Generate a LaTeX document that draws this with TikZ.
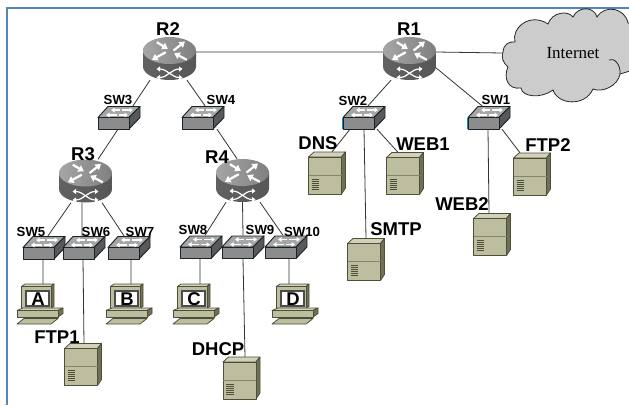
\documentclass[tikz,border=0pt]{standalone}
\usepackage{fontspec}
\setmainfont{Liberation Sans}
\newfontfamily\inetfont{Liberation Serif}
\usetikzlibrary{arrows.meta, backgrounds}
\definecolor{khaki}{HTML}{BDBDA0}
\definecolor{khakilite}{HTML}{D2D2BA}
\definecolor{khakidark}{HTML}{70705A}
\definecolor{khakiline}{HTML}{4F4F38}
\definecolor{swline}{HTML}{17242B}
\definecolor{frameblue}{HTML}{5584BE}
\tikzset{
    link/.style={line width=0.8pt, draw=black!80}, % the wires between the devices
    bigtag/.style={font=\bfseries\fontsize{18.5}{18.5}\selectfont, inner sep=0pt}, % R1, WEB1, ...
    swtag/.style={font=\bfseries\fontsize{13.2}{13.2}\selectfont, inner sep=0pt}, % SW1, SW2, ...
    whitearrow/.style={draw=white, line width=2.2pt, -{Triangle[length=5.5pt, width=7pt]}},
    swarrow/.style={draw=white, line width=1.4pt, -{Triangle[length=3.5pt, width=4.5pt]}},
    crossarrow/.style={draw=white, line width=1.2pt, {Triangle[length=3.5pt, width=5pt]}-{Triangle[length=3.5pt, width=5pt]}},
    kh/.style={fill=khaki, draw=khakiline, line width=0.8pt, line join=round},
    router/.pic={
        \node[minimum width=53pt, minimum height=43pt, inner sep=0pt] (-n) at (0,0) {};
        \shade[left color=black!62, middle color=black!48, right color=black!66]
            (-26.5,-8) -- (-26.5,8) arc[start angle=180, end angle=0, x radius=26.5, y radius=13.5] -- (26.5,-8) -- cycle;
        \shade[left color=black!35, right color=black!50] (0,-8) ellipse[x radius=26.5, y radius=13.5];
        \draw[whitearrow] (4,-8) -- (15.5,-17);
        \draw[whitearrow] (-3.7,-6.3) -- (-17.5,1.3);
        \draw[whitearrow] (-12.7,-16.3) -- (-1.7,-9.7);
        \draw[whitearrow] (17.3,1.3) -- (4.7,-5.3);
        \draw[crossarrow] (-13,10.5) .. controls (-2,10.5) and (2,19) .. (13,19);
        \draw[crossarrow] (-13,19) .. controls (-2,19) and (2,10.5) .. (13,10.5);
    },
    switch/.pic={
        \node[minimum width=42pt, minimum height=23pt, inner sep=0pt] (-n) at (0,0) {};
        \draw[fill=black!35, draw=swline, line width=0.9pt, line join=round] (-21,0) -- (-11,-11) -- (21,-11) -- (10,0) -- cycle;
        \draw[fill=black!65, draw=swline, line width=0.9pt, line join=round] (10,0) -- (21,-11) -- (21,0) -- (10,11.5) -- cycle;
        \draw[fill=black!45, draw=swline, line width=0.9pt, line join=round] (-21,0) rectangle (10,11.5);
        \draw[swarrow] (1,-7.5) -- (-8,-7.5);
        \draw[swarrow] (3,-7.5) -- (14,-7.5);
        \draw[swarrow] (-2,-2.5) -- (-13,-2.5);
        \draw[swarrow] (0,-2.5) -- (9,-2.5);
    },
    server/.pic={
        \node[minimum width=37pt, minimum height=42pt, inner sep=0pt] (-n) at (0,0) {};
        \draw[kh, fill=khakilite] (-18.5,-16) -- (-13,-21) -- (18.5,-21) -- (14.5,-16) -- cycle;
        \draw[kh, fill=khakidark] (14.5,-16) -- (18.5,-21) -- (18.5,15) -- (14.5,21) -- cycle;
        \draw[kh] (-18.5,-16) rectangle (14.5,21);
        \draw[khakiline!70, line width=0.7pt] (-18.5,2) -- (14.5,2);
        \foreach \y in {6,8,10,12,14,16}
            \draw[khakiline, line width=0.6pt] (-15.5,\y) -- (-8,\y);
    },
    pics/pc/.style={code={
        \node[minimum width=46pt, minimum height=39pt, inner sep=0pt] (-n) at (0,0) {};
        \draw[kh, fill=khakilite] (-18.5,-18) -- (-15,-20.5) -- (14,-20.5) -- (11,-18) -- cycle;
        \draw[kh, fill=khakidark] (11,-18) -- (14,-20.5) -- (14,2) -- (11,3.5) -- cycle;
        \draw[kh] (-18.5,-18) rectangle (11,3.5);
        \draw[fill=white, draw=black!70, line width=1.2pt] (-14,-13.5) rectangle (9,1.5);
        \draw[kh, fill=khakilite] (-23,6) -- (-17,3.5) -- (23,3.5) -- (18,6) -- cycle;
        \draw[kh, fill=khakidark] (18,6) -- (23,3.5) -- (23,9) -- (18,12.5) -- cycle;
        \draw[kh] (-23,6) rectangle (18,12.5);
        \draw[kh] (-23,19.5) -- (-16,14) -- (18,14) -- (11,19.5) -- cycle;
        \node[bigtag] (-t) at (-2,-5.5) {#1};
    }},
}

\begin{document}
\begin{tikzpicture}[x=1pt, y=-1pt]
    \useasboundingbox (0,0) rectangle (629,405);
    \draw[frameblue, line width=1.5pt] (629,8) -- (7,8) -- (7,405);

    % internet cloud
    \begin{scope}
        \clip (0,0) rectangle (629,405);
        \draw[fill=black!20, draw=black!85, line width=0.8pt]
            (503,52) .. controls (503,45) and (509,41) .. (515,42)
            .. controls (511,28) and (530,12) .. (548,24)
            .. controls (552,12) and (568,10) .. (573,17)
            .. controls (578,6) and (594,6) .. (597,17)
            .. controls (605,4) and (625,8) .. (628,23)
            -- (640,26) -- (640,68) -- (620,74)
            .. controls (618,86) and (602,93) .. (593,89)
            .. controls (585,107) and (558,105) .. (553,90)
            .. controls (541,99) and (522,97) .. (521,88)
            .. controls (508,90) and (503,78) .. (508,67)
            .. controls (503,63) and (501,57) .. (503,52) -- cycle;
        \draw[draw=black!85, line width=0.8pt] (609,60) .. controls (614,57) and (621,65) .. (620,74);
    \end{scope}
    \node[font=\inetfont\fontsize{17}{17}\selectfont, minimum width=140pt, inner sep=0pt] (inet) at (573,53) {Internet};

    % routers
    \pic (r1) at (409.5,58.5) {router};
    \pic (r2) at (169.5,58.5) {router};
    \pic (r3) at (85.5,181) {router};
    \pic (r4) at (242.5,180.5) {router};

    % switches
    \pic (sw1) at (489,117.5) {switch};
    \pic (sw2) at (364,117.5) {switch};
    \pic (sw3) at (119,117.5) {switch};
    \pic (sw4) at (203,117.5) {switch};
    \pic (sw5) at (44,247.5) {switch};
    \pic (sw6) at (84,247.5) {switch};
    \pic (sw7) at (129,247.5) {switch};
    \pic (sw8) at (201,247) {switch};
    \pic (sw9) at (243,247) {switch};
    \pic (sw10) at (286,247) {switch};
    \draw[cyan!70!blue, line width=1pt] (sw1-n.south west) -- +(0,-11.5);
    \draw[cyan!70!blue, line width=1pt] (sw2-n.south west) -- +(0,-11.5);

    % servers
    \pic (dns) at (327,173) {server};
    \pic (web1) at (405,173.5) {server};
    \pic (ftp2) at (532,174) {server};
    \pic (web2) at (492,234.5) {server};
    \pic (smtp) at (366,259.5) {server};
    \pic (ftp1) at (83,364.5) {server};
    \pic (dhcp) at (241.5,378) {server};

    % hosts
    \pic (pca) at (40,304.5) {pc=A};
    \pic (pcb) at (129,304.5) {pc=B};
    \pic (pcc) at (196,304.5) {pc=C};
    \pic (pcd) at (295,304.5) {pc=D};

    \begin{scope}[on background layer]
        \draw[link]
        ([yshift=6.5]r2-n.east) -- ([yshift=6.5]r1-n.west)
        ([yshift=6.5]r1-n.east) -- (inet.west)
        ([xshift=-19.5]r2-n.south) -- ([xshift=14]sw3-n.north)
        ([xshift=17.5]r2-n.south) -- ([xshift=2]sw4-n.north)
        ([xshift=-1]sw3-n.south) -- ([xshift=12.5]r3-n.north)
        ([xshift=14]sw4-n.south) -- ([xshift=-5.5]r4-n.north)
        ([xshift=-18.5]r1-n.south) -- ([xshift=4]sw2-n.north)
        ([yshift=-9.5]r1-n.east) -- ([xshift=-7]sw1-n.north)
        ([xshift=-14]sw2-n.south) -- ([xshift=5]dns-n.north)
        (sw2-n.south) -- ([xshift=0]smtp-n.north)
        ([xshift=13]sw2-n.south) -- ([xshift=-7]web1-n.north)
        ([xshift=-1]sw1-n.south) -- ([xshift=-3]web2-n.north)
        ([xshift=13]sw1-n.south) -- ([xshift=-12]ftp2-n.north)
        ([xshift=-14.5]r3-n.south) -- ([xshift=4]sw5-n.north)
        ([xshift=-3.5]r3-n.south) -- ([xshift=-2]sw6-n.north)
        ([xshift=16.5]r3-n.south) -- ([xshift=-5]sw7-n.north)
        ([xshift=-16.5]r4-n.south) -- ([xshift=4]sw8-n.north)
        (r4-n.south) -- (sw9-n.north)
        ([xshift=17.5]r4-n.south) -- ([xshift=-3]sw10-n.north)
        ([xshift=-1]sw5-n.south) -- ([xshift=3]pca-n.north)
        ([xshift=-1]sw6-n.south) -- ([xshift=1]ftp1-n.north)
        ([xshift=2]sw7-n.south) -- ([xshift=2]pcb-n.north)
        ([xshift=-1]sw8-n.south) -- ([xshift=4]pcc-n.north)
        (sw9-n.south) -- ([xshift=3.5]dhcp-n.north)
        ([xshift=3]sw10-n.south) -- ([xshift=-6]pcd-n.north);
    \end{scope}

    % tags
    \node[bigtag] (r1tag) at (409,29) {R1};
    \node[bigtag] (r2tag) at (168,29) {R2};
    \node[bigtag] (r3tag) at (83,154.5) {R3};
    \node[bigtag] (r4tag) at (217,157) {R4};
    \node[swtag] (sw1tag) at (496,100) {SW1};
    \node[swtag] (sw2tag) at (353,101) {SW2};
    \node[swtag] (sw3tag) at (118,100) {SW3};
    \node[swtag] (sw4tag) at (221,100) {SW4};
    \node[swtag] (sw5tag) at (31,232) {SW5};
    \node[swtag] (sw6tag) at (96,232) {SW6};
    \node[swtag] (sw7tag) at (140,232) {SW7};
    \node[swtag] (sw8tag) at (193,230) {SW8};
    \node[swtag] (sw9tag) at (260,230) {SW9};
    \node[swtag] (sw10tag) at (302,232) {SW10};
    \node[bigtag] (dnstag) at (318,143) {DNS};
    \node[bigtag] (web1tag) at (423,144) {WEB1};
    \node[bigtag] (ftp2tag) at (548,145) {FTP2};
    \node[bigtag] (web2tag) at (462,204) {WEB2};
    \node[bigtag] (smtptag) at (396,229) {SMTP};
    \node[bigtag] (ftp1tag) at (57,337) {FTP1};
    \node[bigtag] (dhcptag) at (218,349) {DHCP};
\end{tikzpicture}
\end{document}
